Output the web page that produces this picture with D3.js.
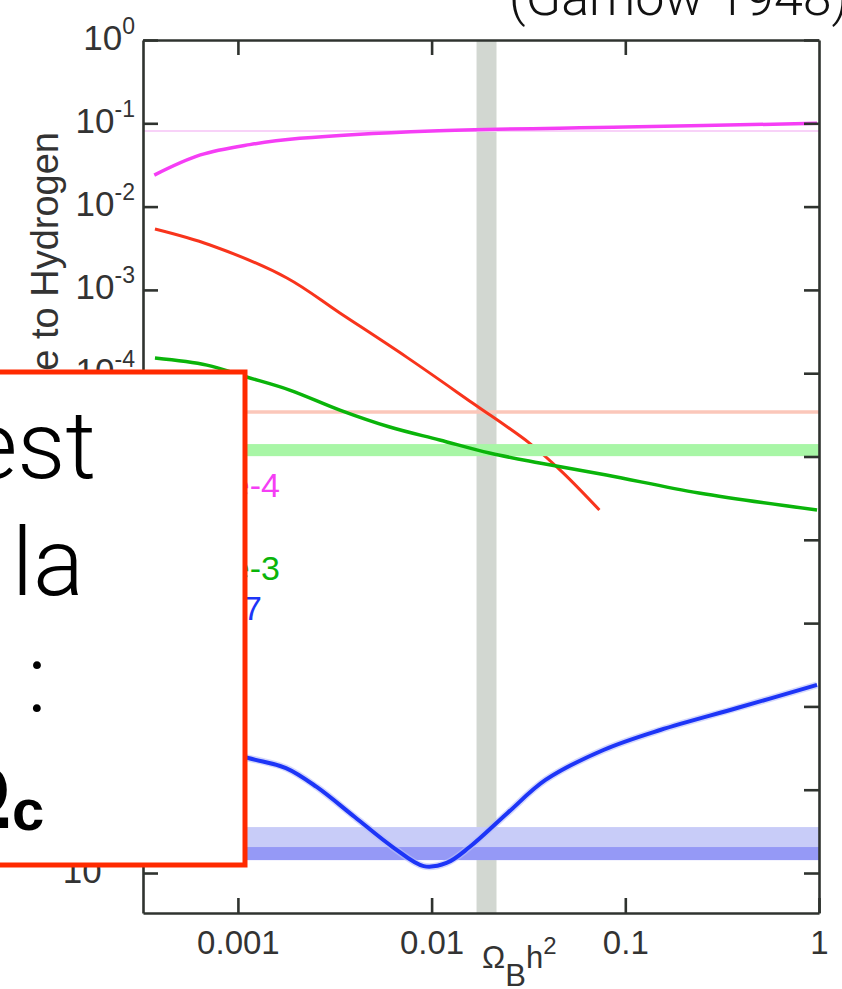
<!DOCTYPE html>
<html>
<head>
<meta charset="utf-8">
<script src="https://cdn.jsdelivr.net/npm/d3@7"></script>
<style>
  body { margin: 0; background: #fff; }
  svg { display: block; }
</style>
</head>
<body>
<div id="chart"></div>
<script>
// Axis ticks
const xTicks = [0.001, 0.01, 0.1, 1];
const xTickLabels = ["0.001", "0.01", "0.1", "1"];
const yTicks = [1, 1e-1, 1e-2, 1e-3, 1e-4, 1e-5, 1e-6, 1e-7, 1e-8, 1e-9, 1e-10];
const yTickExponents = ["0", "-1", "-2", "-3", "-4", "-5", "-6", "-7", "-8", "-9", "-10"];

// Predicted abundances vs Omega_B h^2
const omegaHe4 = [3.7e-4, 6.4e-4, 1.15e-3, 2.09e-3, 0.01, 0.1, 0.977];
const valHe4   = [0.0239, 0.0417, 0.0555, 0.0660, 0.081, 0.090, 0.100];

const omegaD = [3.73e-4, 7.18e-4, 1.79e-3, 3.36e-3, 7.43e-3, 0.01626, 0.0320, 0.0473, 0.0735];
const valD   = [5.38e-3, 3.46e-3, 1.39e-3, 5.28e-4, 1.56e-4, 4.39e-5, 1.45e-5, 6.5e-6, 2.28e-6];

const omegaHe3 = [3.73e-4, 6.92e-4, 1.11e-3, 1.85e-3, 3.36e-3, 6.08e-3, 0.0110, 0.0199, 0.0361, 0.0798, 0.240, 0.977];
const valHe3   = [1.52e-4, 1.25e-4, 9.0e-5, 6.28e-5, 3.61e-5, 2.26e-5, 1.58e-5, 1.10e-5, 8.36e-6, 6.0e-6, 3.65e-6, 2.28e-6];

const omegaLi7 = [3.73e-4, 1.13e-3, 1.77e-3, 2.55e-3, 4.01e-3, 6.30e-3, 9.10e-3, 0.01194, 0.01570, 0.02466, 0.03873, 0.0771, 0.1514, 0.3776, 0.977];
const valLi7   = [4.67e-9, 2.40e-9, 1.82e-9, 1.08e-9, 4.70e-10, 2.05e-10, 1.21e-10, 1.32e-10, 2.05e-10, 5.25e-10, 1.31e-9, 3.0e-9, 5.21e-9, 9.57e-9, 1.81e-8];

// Observational constraints
const baryonBand = [0.01706, 0.02163];
const he4Obs = 0.0809;
const dObs = 3.42e-5;
const he3Band = [1.01e-5, 1.41e-5];
const li7BandWide = [1.43e-10, 3.56e-10];
const li7BandNarrow = [1.43e-10, 2.05e-10];

// Curve labels: text, baseline level
const labelNames = ["He-4", "He-3", "Li-7"];
const labelLevels = [3.27e-6, 3.3e-7, 1.1e-7];
const labelColors = ["#f53ef5", "#0ab40a", "#1d35f7"];

const width = 842, height = 989;
const plot = { left: 143, right: 819, top: 40, bottom: 913 };

const svg = d3.select("#chart").append("svg")
  .attr("width", width)
  .attr("height", height);

const x = d3.scaleLog().domain([Math.pow(10, -3.49), 1]).range([plot.left, plot.right]);
const y = d3.scaleLog().domain([1, Math.pow(10, -10.48)]).range([plot.top, plot.bottom]);

const axisFont = "'Liberation Sans', Arial, Helvetica, sans-serif";
const lightFont = "'Helvetica Neue', Roboto, 'Open Sans', sans-serif";

// Title above the plot (partly out of frame)
svg.append("text")
  .attr("x", 509)
  .attr("y", 15)
  .attr("font-family", lightFont)
  .attr("font-weight", 300)
  .attr("font-size", "52px")
  .attr("fill", "#111")
  .text("(Gamow 1948)");

// Shaded baryon density band
svg.append("rect")
  .attr("x", x(baryonBand[0]))
  .attr("y", plot.top)
  .attr("width", x(baryonBand[1]) - x(baryonBand[0]))
  .attr("height", plot.bottom - plot.top)
  .attr("fill", "#d2d7d1");

// He-4 and D observed values
svg.append("line")
  .attr("x1", plot.left).attr("x2", plot.right)
  .attr("y1", y(he4Obs)).attr("y2", y(he4Obs))
  .attr("stroke", "#f8d2f8").attr("stroke-width", 2);

svg.append("line")
  .attr("x1", plot.left).attr("x2", plot.right)
  .attr("y1", y(dObs)).attr("y2", y(dObs))
  .attr("stroke", "#fbc7ba").attr("stroke-width", 3.5);

const line = (xs, ys) => d3.line()
  .x((d, i) => x(xs[i]))
  .y((d, i) => y(ys[i]))
  .curve(d3.curveCatmullRom.alpha(0.5))(xs);

svg.append("path")
  .attr("d", line(omegaHe4, valHe4))
  .attr("fill", "none").attr("stroke", "#f53ef5").attr("stroke-width", 3.5);

svg.append("path")
  .attr("d", line(omegaD, valD))
  .attr("fill", "none").attr("stroke", "#f8341c").attr("stroke-width", 3);

// He-3 band drawn over D curve
svg.append("rect")
  .attr("x", plot.left)
  .attr("y", y(he3Band[1]))
  .attr("width", plot.right - plot.left)
  .attr("height", y(he3Band[0]) - y(he3Band[1]))
  .attr("fill", "#a8f6a6");

svg.append("path")
  .attr("d", line(omegaHe3, valHe3))
  .attr("fill", "none").attr("stroke", "#0ab40a").attr("stroke-width", 3.5);

// Li-7 bands
svg.append("rect")
  .attr("x", plot.left)
  .attr("y", y(li7BandWide[1]))
  .attr("width", plot.right - plot.left)
  .attr("height", y(li7BandWide[0]) - y(li7BandWide[1]))
  .attr("fill", "#c8ccf8");

svg.append("rect")
  .attr("x", plot.left)
  .attr("y", y(li7BandNarrow[1]))
  .attr("width", plot.right - plot.left)
  .attr("height", y(li7BandNarrow[0]) - y(li7BandNarrow[1]))
  .attr("fill", "#9599f6");

svg.append("path")
  .attr("d", line(omegaLi7, valLi7))
  .attr("fill", "none").attr("stroke", "#b8befa").attr("stroke-width", 7).attr("stroke-opacity", 0.6);

svg.append("path")
  .attr("d", line(omegaLi7, valLi7))
  .attr("fill", "none").attr("stroke", "#1d35f7").attr("stroke-width", 4);

// Axes with inward ticks
const axisColor = "#2f332f";
const styleAxis = g => {
  g.select(".domain").attr("stroke", axisColor).attr("stroke-width", 2.6);
  g.selectAll(".tick line").attr("stroke", axisColor).attr("stroke-width", 2.6);
};

svg.append("g")
  .attr("transform", `translate(0,${plot.bottom})`)
  .call(d3.axisBottom(x).tickValues(xTicks).tickSizeInner(-15).tickSizeOuter(0)
    .tickPadding(10).tickFormat((d, i) => xTickLabels[i]))
  .call(styleAxis)
  .call(g => g.selectAll(".tick text")
    .attr("font-family", axisFont)
    .attr("font-size", "33px")
    .attr("fill", "#333")
    .attr("dy", "0.95em"));

svg.append("g")
  .attr("transform", `translate(0,${plot.top})`)
  .call(d3.axisTop(x).tickValues(xTicks.slice(0, 3)).tickSizeInner(-15).tickSizeOuter(0).tickFormat(""))
  .call(styleAxis);

svg.append("g")
  .attr("transform", `translate(${plot.right},0)`)
  .call(d3.axisRight(y).tickValues(yTicks).tickSizeInner(-15).tickSizeOuter(0).tickFormat(""))
  .call(styleAxis);

const yAxis = svg.append("g")
  .attr("transform", `translate(${plot.left},0)`)
  .call(d3.axisLeft(y).tickValues(yTicks).tickSizeInner(-15).tickSizeOuter(0).tickFormat(""))
  .call(styleAxis);

yAxis.selectAll(".tick").each(function(d, i) {
  const t = d3.select(this).append("text")
    .attr("x", -8)
    .attr("y", 9)
    .attr("text-anchor", "end")
    .attr("font-family", axisFont)
    .attr("fill", "#333");
  t.append("tspan").attr("font-size", "35px").text("10");
  t.append("tspan").attr("font-size", "23px").attr("dy", -16).text(yTickExponents[i]);
});

// Axis titles
const xTitle = svg.append("text")
  .attr("x", 482)
  .attr("y", 968)
  .attr("font-family", axisFont)
  .attr("font-size", "31px")
  .attr("fill", "#333");
xTitle.append("tspan").text("Ω");
xTitle.append("tspan").attr("dy", 18).text("B");
xTitle.append("tspan").attr("dy", -18).text("h");
xTitle.append("tspan").attr("dy", -14).attr("font-size", "24px").text("2");

svg.append("text")
  .attr("transform", "translate(58,132) rotate(-90)")
  .attr("text-anchor", "end")
  .attr("font-family", axisFont)
  .attr("font-size", "38px")
  .attr("fill", "#333")
  .text("Abundance relative to Hydrogen");

// Curve labels (mostly hidden behind the overlay box)
svg.selectAll(".curve-label")
  .data(labelNames)
  .enter()
  .append("text")
  .attr("class", "curve-label")
  .attr("x", (d, i) => i === 2 ? 262 : 280)
  .attr("y", (d, i) => y(labelLevels[i]))
  .attr("text-anchor", "end")
  .attr("font-family", axisFont)
  .attr("font-size", "34px")
  .attr("fill", (d, i) => labelColors[i])
  .text(d => d);

// Overlay box
svg.append("rect")
  .attr("x", -20)
  .attr("y", 372)
  .attr("width", 265)
  .attr("height", 493)
  .attr("fill", "#fff")
  .attr("stroke", "#ff2a00")
  .attr("stroke-width", 5);

const boxText = svg.append("g")
  .attr("font-family", lightFont)
  .attr("fill", "#000");

boxText.append("text")
  .attr("x", 96).attr("y", 478)
  .attr("text-anchor", "end")
  .attr("font-size", "95px").attr("font-weight", 300)
  .text("est");

boxText.append("text")
  .attr("x", 84).attr("y", 595)
  .attr("text-anchor", "end")
  .attr("font-size", "95px").attr("font-weight", 300)
  .text("la");

boxText.append("text")
  .attr("x", 37).attr("y", 712)
  .attr("text-anchor", "middle")
  .attr("font-size", "95px").attr("font-weight", 300)
  .text(":");

boxText.append("text")
  .attr("x", 12).attr("y", 828)
  .attr("text-anchor", "end")
  .attr("font-family", axisFont)
  .attr("font-size", "95px").attr("font-weight", 700)
  .text("Ω");

boxText.append("text")
  .attr("x", 12).attr("y", 830)
  .attr("font-family", axisFont)
  .attr("font-size", "58px").attr("font-weight", 700)
  .text("c");
</script>
</body>
</html>
